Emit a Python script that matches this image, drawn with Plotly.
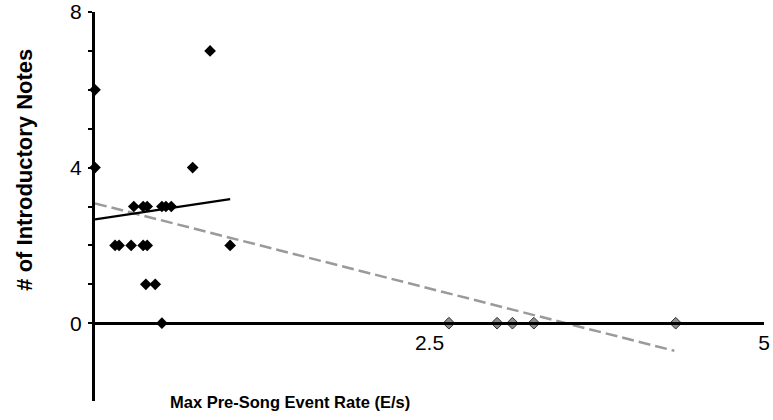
import plotly.graph_objects as go

# ---- data ----
black_x = [0.0, 0.0, 0.86, 0.73, 0.29, 0.36, 0.39, 0.50, 0.53, 0.57,
           0.15, 0.18, 0.27, 0.36, 0.39, 1.01, 0.38, 0.45, 0.50]
black_y = [6, 4, 7, 4, 3, 3, 3, 3, 3, 3,
           2, 2, 2, 2, 2, 2, 1, 1, 0]

grey_x = [2.645, 3.005, 3.12, 3.28, 4.34]
grey_y = [0, 0, 0, 0, 0]

fit_black_x = [0.0, 1.01]
fit_black_y = [2.67, 3.19]

fit_grey_x = [0.0, 4.33]
fit_grey_y = [3.08, -0.71]

x_tick_vals = [2.5, 5]
x_tick_text = ["2.5", "5"]
y_tick_vals = [0, 1, 2, 3, 4, 5, 6, 7, 8]
y_tick_text = ["0", "", "", "", "4", "", "", "", "8"]

x_title = "Max Pre-Song Event Rate (E/s)"
y_title = "# of Introductory Notes"

FONT = "Liberation Sans, Arial, sans-serif"

fig = go.Figure()

fig.add_trace(go.Scatter(
    x=fit_grey_x, y=fit_grey_y, mode="lines",
    line=dict(color="#9a9a9a", width=2.5, dash="12px,5px"),
    hoverinfo="skip", showlegend=False, cliponaxis=False))

fig.add_trace(go.Scatter(
    x=fit_black_x, y=fit_black_y, mode="lines",
    line=dict(color="black", width=2.2),
    hoverinfo="skip", showlegend=False, cliponaxis=False))

fig.add_trace(go.Scatter(
    x=black_x, y=black_y, mode="markers",
    marker=dict(symbol="diamond", size=9, color="black", line=dict(width=0)),
    showlegend=False, cliponaxis=False))

fig.add_trace(go.Scatter(
    x=grey_x, y=grey_y, mode="markers",
    marker=dict(symbol="diamond", size=9, color="#8c8c8c",
                line=dict(width=1, color="#333333")),
    showlegend=False, cliponaxis=False))

fig.update_layout(
    width=773, height=420,
    margin=dict(l=95, r=9, t=12, b=19, autoexpand=False),
    paper_bgcolor="white", plot_bgcolor="white",
    font=dict(family=FONT, color="black", size=21),
    xaxis=dict(
        range=[0, 5], anchor="free", position=0.2, automargin=False,
        showline=True, linewidth=3, linecolor="black",
        showgrid=False, zeroline=False,
        tickmode="array", tickvals=x_tick_vals, ticktext=x_tick_text,
        ticks="", ticklabelstandoff=0,
        tickfont=dict(size=21, family=FONT),
    ),
    yaxis=dict(
        range=[-2, 8], automargin=False,
        showline=True, linewidth=3, linecolor="black",
        showgrid=False, zeroline=False,
        tickmode="array", tickvals=y_tick_vals, ticktext=y_tick_text,
        ticks="outside", ticklen=4, tickwidth=1.5, tickcolor="black",
        ticklabelstandoff=2,
        tickfont=dict(size=21, family=FONT),
    ),
    annotations=[
        dict(text="<b>" + x_title + "</b>", xref="paper", yref="paper",
             x=0.2915, y=-0.003, xanchor="center", yanchor="middle",
             showarrow=False, font=dict(size=16.5, family=FONT)),
        dict(text="<b>" + y_title + "</b>", xref="paper", yref="paper",
             x=-0.105, y=0.594, xanchor="center", yanchor="middle",
             textangle=-90, showarrow=False, font=dict(size=22, family=FONT)),
    ],
)

fig.write_html("out.html",
               config={"displayModeBar": False},
               post_script="document.body.style.margin='0px';document.body.style.overflow='hidden';")
